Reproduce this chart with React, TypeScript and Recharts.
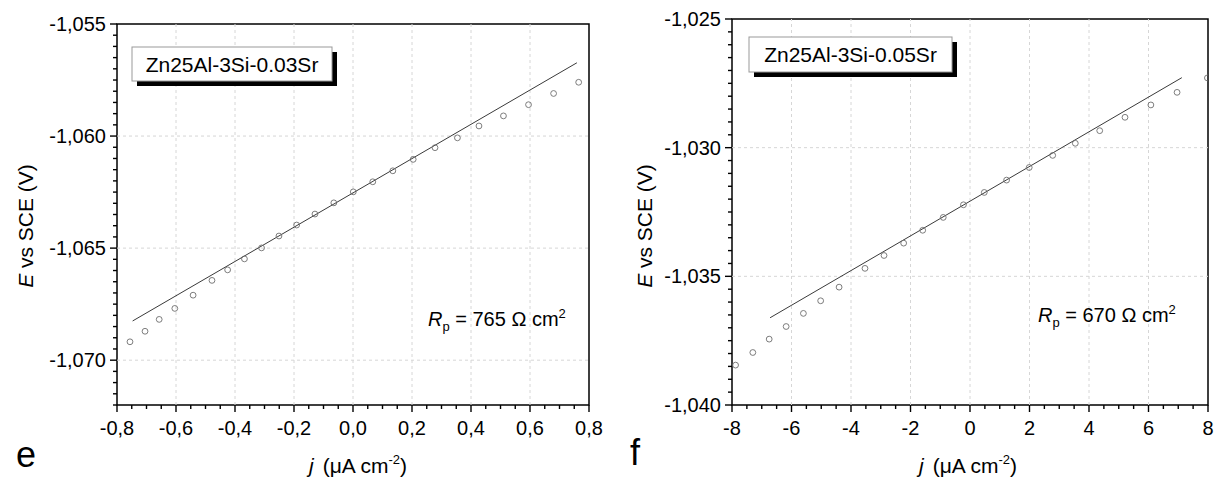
import React from "react";
import {
  ComposedChart,
  Scatter,
  XAxis,
  YAxis,
  ReferenceLine,
  ReferenceArea,
} from "recharts";

const FONT = '"Liberation Sans", Arial, Helvetica, sans-serif';

// panel e: Zn25Al-3Si-0.03Sr  (j in uA cm-2, E in V vs SCE)
const eCurrent = [
  -0.756, -0.705, -0.657, -0.604, -0.542, -0.478, -0.425, -0.368, -0.31, -0.251,
  -0.191, -0.129, -0.065, 0.001, 0.067, 0.135, 0.204, 0.278, 0.354, 0.427, 0.51,
  0.595, 0.68, 0.765,
];
const ePotential = [
  -1.06918, -1.06871, -1.06818, -1.06769, -1.0671, -1.06644, -1.06597, -1.06548,
  -1.06499, -1.06446, -1.06397, -1.06348, -1.06298, -1.06249, -1.06204, -1.06155,
  -1.06104, -1.06052, -1.06008, -1.05955, -1.0591, -1.0586, -1.0581, -1.0576,
];
const eFitCurrent = [-0.747, 0.759];
const eFitPotential = [-1.06825, -1.05673];
const eXTicks = [-0.8, -0.6, -0.4, -0.2, 0, 0.2, 0.4, 0.6, 0.8];
const eYTicks = [-1.07, -1.065, -1.06, -1.055];

// panel f: Zn25Al-3Si-0.05Sr
const fCurrent = [
  -7.88, -7.3, -6.75, -6.18, -5.6, -5.02, -4.4, -3.53, -2.89, -2.23, -1.59, -0.9,
  -0.22, 0.48, 1.23, 1.99, 2.78, 3.54, 4.36, 5.21, 6.08, 6.96, 7.98,
];
const fPotential = [
  -1.03845, -1.03796, -1.03744, -1.03695, -1.03644, -1.03595, -1.03542, -1.03469,
  -1.03419, -1.03371, -1.03321, -1.03271, -1.03222, -1.03174, -1.03126, -1.03077,
  -1.0303, -1.02983, -1.02934, -1.02882, -1.02834, -1.02785, -1.02729,
];
const fFitCurrent = [-6.72, 7.12];
const fFitPotential = [-1.03661, -1.02728];
const fXTicks = [-8, -6, -4, -2, 0, 2, 4, 6, 8];
const fYTicks = [-1.04, -1.035, -1.03, -1.025];

const toPoints = (xs: number[], ys: number[]) => xs.map((x, i) => ({ x, y: ys[i] }));

// minor tick positions between the axis ends
function subTicks(lo: number, hi: number, step: number) {
  const out: number[] = [];
  const n = Math.round((hi - lo) / step);
  for (let i = 0; i <= n; i++) out.push(+(lo + i * step).toFixed(6));
  return out;
}

const isMajor = (v: number, majors: number[]) => majors.some((m) => Math.abs(m - v) < 1e-9);
const comma = (digits: number) => (v: number) => v.toFixed(digits).replace(".", ",");

const H = 479;
const X_AXIS_H = 40;
const Y_AXIS_W = 60;
const MINOR = 4;
const MAJOR = 7;

type Box = { x0: number; x1: number; y0: number; y1: number };

function XTick(props: any) {
  const { x, y, payload, majors, fmt } = props;
  if (!isMajor(payload.value, majors)) return <g />;
  return (
    <text x={x} y={y + 30} textAnchor="middle" fontSize={20} fontFamily={FONT} fill="#000">
      {fmt(payload.value)}
    </text>
  );
}

function YTick(props: any) {
  const { x, y, payload, majors, fmt } = props;
  if (!isMajor(payload.value, majors)) return <g />;
  return (
    <text x={x - 11} y={y + 7} textAnchor="end" fontSize={20} fontFamily={FONT} fill="#000">
      {fmt(payload.value)}
    </text>
  );
}

const OpenCircle = (p: any) => (
  <circle cx={p.cx} cy={p.cy} r={2.9} fill="none" stroke="#6e6e6e" strokeWidth={0.9} />
);

interface PanelProps {
  left: number;
  width: number;
  box: Box;
  points: { x: number; y: number }[];
  fit: { x: number; y: number }[];
  xMajors: number[];
  yMajors: number[];
  xDomain: [number, number];
  yDomain: [number, number];
  xStep: number;
  yStep: number;
  xFmt: (v: number) => string;
  yFmt: (v: number) => string;
}

function Panel(p: PanelProps) {
  const xAll = subTicks(p.xDomain[0], p.xDomain[1], p.xStep);
  const yAll = subTicks(p.yDomain[0], p.yDomain[1], p.yStep);
  const xGrid = p.xMajors.filter((v) => v > p.xDomain[0] && v < p.xDomain[1]);
  const yGrid = p.yMajors.filter((v) => v > p.yDomain[0] && v < p.yDomain[1]);
  const margin = {
    top: p.box.y0,
    bottom: H - p.box.y1 - X_AXIS_H,
    left: p.box.x0 - p.left - Y_AXIS_W,
    right: p.left + p.width - p.box.x1,
  };
  return (
    <div style={{ position: "absolute", left: p.left, top: 0 }}>
      <ComposedChart width={p.width} height={H} margin={margin}>
        <XAxis
          type="number"
          dataKey="x"
          domain={p.xDomain}
          ticks={xAll}
          interval={0}
          tickSize={0}
          tickMargin={0}
          tickLine={false}
          axisLine={false}
          allowDataOverflow
          height={X_AXIS_H}
          tick={(t: any) => <XTick {...t} majors={p.xMajors} fmt={p.xFmt} />}
        />
        <YAxis
          type="number"
          dataKey="y"
          domain={p.yDomain}
          ticks={yAll}
          interval={0}
          tickSize={0}
          tickMargin={0}
          tickLine={false}
          axisLine={false}
          allowDataOverflow
          width={Y_AXIS_W}
          tick={(t: any) => <YTick {...t} majors={p.yMajors} fmt={p.yFmt} />}
        />
        {xGrid.map((v) => (
          <ReferenceLine key={"gx" + v} x={v} stroke="#d6d6d6" strokeDasharray="3 3" />
        ))}
        {yGrid.map((v) => (
          <ReferenceLine key={"gy" + v} y={v} stroke="#d6d6d6" strokeDasharray="3 3" />
        ))}
        <Scatter
          data={p.fit}
          dataKey="y"
          line={{ stroke: "#3a3a3a", strokeWidth: 1 }}
          shape={() => <g />}
          isAnimationActive={false}
        />
        <Scatter data={p.points} dataKey="y" shape={OpenCircle} isAnimationActive={false} />
        <ReferenceArea
          x1={p.xDomain[0]}
          x2={p.xDomain[1]}
          y1={p.yDomain[0]}
          y2={p.yDomain[1]}
          fill="none"
          fillOpacity={0}
          stroke="#000"
          strokeWidth={1.5}
        />
      </ComposedChart>
    </div>
  );
}

// outward tick marks along the bottom and left edges of a plot frame
function FrameTicks(p: PanelProps) {
  const { box, xDomain, yDomain } = p;
  const sx = (v: number) => box.x0 + ((v - xDomain[0]) / (xDomain[1] - xDomain[0])) * (box.x1 - box.x0);
  const sy = (v: number) => box.y1 - ((v - yDomain[0]) / (yDomain[1] - yDomain[0])) * (box.y1 - box.y0);
  const xAll = subTicks(xDomain[0], xDomain[1], p.xStep);
  const yAll = subTicks(yDomain[0], yDomain[1], p.yStep);
  return (
    <g stroke="#000" strokeWidth={1.4}>
      {xAll.map((v) => (
        <line
          key={"x" + v}
          x1={sx(v)}
          x2={sx(v)}
          y1={box.y1}
          y2={box.y1 + (isMajor(v, p.xMajors) ? MAJOR : MINOR)}
        />
      ))}
      {yAll.map((v) => (
        <line
          key={"y" + v}
          x1={box.x0 - (isMajor(v, p.yMajors) ? MAJOR : MINOR)}
          x2={box.x0}
          y1={sy(v)}
          y2={sy(v)}
        />
      ))}
    </g>
  );
}

function Rp({ x, y, value }: { x: number; y: number; value: string }) {
  return (
    <text x={x} y={y} fontSize={20} fontFamily={FONT} fill="#000">
      <tspan fontStyle="italic">R</tspan>
      <tspan fontSize={13} dy={5}>p</tspan>
      <tspan dy={-5}>{` = ${value} \u03A9 cm`}</tspan>
      <tspan fontSize={13} dy={-8}>2</tspan>
    </text>
  );
}

function XTitle({ x, y }: { x: number; y: number }) {
  return (
    <text x={x} y={y} textAnchor="middle" fontSize={21} fontFamily={FONT} fill="#000">
      <tspan fontStyle="italic">j</tspan>
      <tspan dx={9}>{"(\u03BCA cm"}</tspan>
      <tspan fontSize={13} dy={-9}>-2</tspan>
      <tspan dy={9}>)</tspan>
    </text>
  );
}

function YTitle({ x, y }: { x: number; y: number }) {
  return (
    <text
      x={x}
      y={y}
      transform={`rotate(-90 ${x} ${y})`}
      textAnchor="middle"
      fontSize={21}
      fontFamily={FONT}
      fill="#000"
    >
      <tspan fontStyle="italic">E</tspan>
      <tspan> vs SCE (V)</tspan>
    </text>
  );
}

function Tag({ x, y, w, h, label }: { x: number; y: number; w: number; h: number; label: string }) {
  return (
    <g>
      <rect x={x + 5} y={y + 5} width={w} height={h} fill="#000" />
      <rect x={x} y={y} width={w} height={h} fill="#fff" stroke="#999" strokeWidth={1} />
      <text x={x + w / 2} y={y + h / 2 + 7.5} textAnchor="middle" fontSize={21} fontFamily={FONT} fill="#000">
        {label}
      </text>
    </g>
  );
}

const panelE: PanelProps = {
  left: 0,
  width: 610,
  box: { x0: 117, x1: 589, y0: 24, y1: 405 },
  points: toPoints(eCurrent, ePotential),
  fit: toPoints(eFitCurrent, eFitPotential),
  xMajors: eXTicks,
  yMajors: eYTicks,
  xDomain: [-0.8, 0.8],
  yDomain: [-1.072, -1.055],
  xStep: 0.05,
  yStep: 0.0005,
  xFmt: comma(1),
  yFmt: comma(3),
};

const panelF: PanelProps = {
  left: 610,
  width: 605,
  box: { x0: 732, x1: 1208, y0: 19, y1: 405 },
  points: toPoints(fCurrent, fPotential),
  fit: toPoints(fFitCurrent, fFitPotential),
  xMajors: fXTicks,
  yMajors: fYTicks,
  xDomain: [-8, 8],
  yDomain: [-1.04, -1.025],
  xStep: 0.5,
  yStep: 0.0005,
  xFmt: (v) => String(v),
  yFmt: comma(3),
};

export default function App() {
  return (
    <div style={{ position: "relative", width: 1215, height: H, background: "#fff", overflow: "hidden" }}>
      <style>{"body{margin:0}"}</style>
      <Panel {...panelE} />
      <Panel {...panelF} />
      <svg
        width={1215}
        height={H}
        style={{ position: "absolute", left: 0, top: 0, pointerEvents: "none" }}
      >
        <FrameTicks {...panelE} />
        <FrameTicks {...panelF} />
        <Tag x={132} y={47} w={200} h={34} label="Zn25Al-3Si-0.03Sr" />
        <Tag x={749} y={37} w={203} h={35} label="Zn25Al-3Si-0.05Sr" />
        <Rp x={428} y={326} value="765" />
        <Rp x={1038} y={322} value="670" />
        <YTitle x={33} y={226} />
        <YTitle x={652} y={226} />
        <XTitle x={358} y={473} />
        <XTitle x={968} y={473} />
        <text x={16} y={467} fontSize={36} fontFamily={FONT} fill="#000">e</text>
        <text x={630} y={465} fontSize={36} fontFamily={FONT} fill="#000">f</text>
      </svg>
    </div>
  );
}
